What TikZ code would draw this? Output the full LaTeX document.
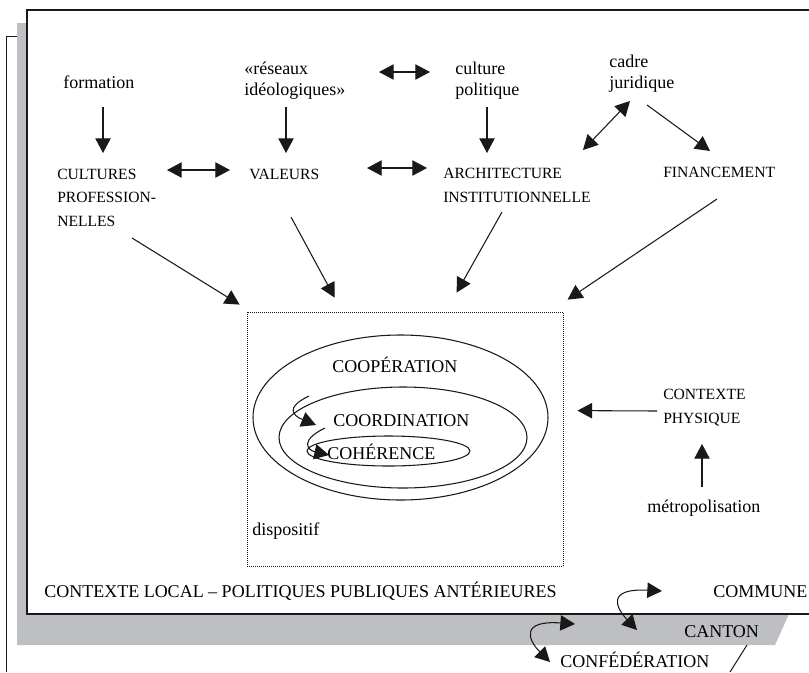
\documentclass[tikz,border=0pt]{standalone}
\usepackage{fontspec}
\setmainfont{Liberation Serif}
\usetikzlibrary{arrows.meta,shapes.geometric}
\definecolor{layergray}{RGB}{190,191,194}
\definecolor{ink}{RGB}{25,25,25}
\begin{document}
\begin{tikzpicture}[x=0.75pt,y=-0.75pt,
  lbl/.style={inner sep=0pt, anchor=base west, align=left, font=\fontsize{13.5}{15.75}\selectfont},
  caps/.style={inner sep=0pt, anchor=base west, align=left, font=\fontsize{11.7}{17.5}\selectfont},
  big/.style={inner sep=0pt, anchor=base west, font=\fontsize{13.5}{16}\selectfont},
  tip/.tip={Triangle[length=11pt,width=11.5pt]},
  arr/.style={line width=0.8pt, draw=ink, -tip},
  dbl/.style={line width=0.8pt, draw=ink, tip-tip},
  ring/.style={draw=ink, line width=0.8pt, ellipse, inner sep=0pt},
]
\useasboundingbox (0,0) rectangle (809,672);

% stacked frames: back outline, grey middle layer, white front sheet
\fill[layergray] (17,23) -- (27,23) -- (27,614) -- (789,614) -- (775,645) -- (17,645) -- cycle;
\draw[ink, line width=0.75pt] (17,36) -- (6,36) -- (6,672);
\draw[ink, line width=0.75pt] (747,645) -- (730,672);
\draw[ink, line width=1pt] (809,10) -- (27,10) -- (27,614) -- (809,614);

% upper row of influences (multi-line labels sit on their last baseline)
\node[lbl] (form)  at (63,88)  {formation};
\node[lbl] (res)   at (244,95) {«réseaux\\idéologiques»};
\node[lbl] (cpol)  at (455,95) {culture\\politique};
\node[lbl] (cadre) at (609,88) {cadre\\juridique};

% second row
\node[caps] (cult) at (57,226)  {CULTURES\\PROFESSION-\\NELLES};
\node[caps] (val)  at (249,179) {VALEURS};
\node[caps] (arch) at (443,202) {ARCHITECTURE\\INSTITUTIONNELLE};
\node[caps] (fin)  at (663,177) {FINANCEMENT};

% the dispositif and its nested rings
\node[draw=ink, line width=0.6pt, dash pattern=on 0.75pt off 0.75pt, inner sep=0pt,
      minimum width=237pt, minimum height=190.5pt] (box) at (405,439) {};
\node[lbl] (dispo) at (252,535) {dispositif};
\node[ring, minimum width=221.25pt, minimum height=123.75pt] (outer)  at (400.5,417.5) {};
\node[ring, minimum width=186pt,    minimum height=75.75pt]  (middle) at (403,437.5) {};
\node[ring, minimum width=122.25pt, minimum height=22.5pt]   (inner)  at (388.5,451) {};
\node[big] (coop)  at (332,372) {COOPÉRATION};
\node[big] (coord) at (333,426) {COORDINATION};
\node[big] (coh)   at (327,459) {COHÉRENCE};

% physical context
\node[caps] (ctxp)  at (663,423) {CONTEXTE\\PHYSIQUE};
\node[lbl]  (metro) at (647,512) {métropolisation};

% institutional levels
\node[big] (local)   at (44,597)  {CONTEXTE LOCAL – POLITIQUES PUBLIQUES ANTÉRIEURES};
\node[big] (commune) at (713,597) {COMMUNE};
\node[big] (canton)  at (684,637) {CANTON};
\node[big] (confed)  at (560,667) {CONFÉDÉRATION};

% vertical influences
\draw[arr] ([shift={(40,19)}]form.base west) -- ([shift={(46,-73)}]cult.base west);
\draw[arr] ([shift={(42,12)}]res.base west)  -- ([shift={(37,-26)}]val.base west);
\draw[arr] ([shift={(32,12)}]cpol.base west) -- ([shift={(44,-49)}]arch.base west);
\draw[dbl] ([shift={(135,-23)}]res.base west) -- ([shift={(-25,-23)}]cpol.base west);
\draw[dbl] ([shift={(21,13)}]cadre.base west) -- ([shift={(140,-52)}]arch.base west);
\draw[arr] ([shift={(38,17)}]cadre.base west) -- ([shift={(47,-26)}]fin.base west);

% horizontal exchanges
\draw[dbl] ([shift={(110,-56)}]cult.base west) -- ([shift={(-19,-9)}]val.base west);
\draw[dbl] ([shift={(118,-11)}]val.base west) -- ([shift={(-16,-34)}]arch.base west);

% everything converges on the dispositif
\draw[arr] ([shift={(75,12)}]cult.base west) -- ([shift={(-7,-7)}]box.north west);
\draw[arr] ([shift={(42,38)}]val.base west)  -- ([shift={(88,-14)}]box.north west);
\draw[arr] ([shift={(59,10)}]arch.base west) -- ([shift={(210,-19)}]box.north west);
\draw[arr] ([shift={(54,22)}]fin.base west)  -- ([shift={(321,-12)}]box.north west);
\draw[arr] ([shift={(-6,-12)}]ctxp.base west) -- ([shift={(14,99)}]box.north east);
\draw[arr] ([shift={(55,-25)}]metro.base west) -- ([shift={(39,21)}]ctxp.base west);

% inward spirals between the rings
\draw[arr] ([shift={(-24,-30)}]coord.base west)
   .. controls ([shift={(-49,-18)}]coord.base west) and ([shift={(-39,-10)}]coord.base west)
   .. ([shift={(-17,-1)}]coord.base west);
\draw[arr] ([shift={(-8,2)}]coord.base west)
   .. controls ([shift={(-27,-19)}]coh.base west) and ([shift={(-20,-9)}]coh.base west)
   .. ([shift={(2,-4)}]coh.base west);

% links between the levels
\draw[dbl] ([shift={(-47,-7)}]canton.base west)
   .. controls ([shift={(-68,-29)}]canton.base west) and ([shift={(-107,-9)}]commune.base west)
   .. ([shift={(-51,-6)}]commune.base west);
\draw[dbl] ([shift={(-10,-5)}]confed.base west)
   .. controls ([shift={(-32,-27)}]confed.base west) and ([shift={(-164,-17)}]canton.base west)
   .. ([shift={(-109,-13)}]canton.base west);
\end{tikzpicture}
\end{document}
